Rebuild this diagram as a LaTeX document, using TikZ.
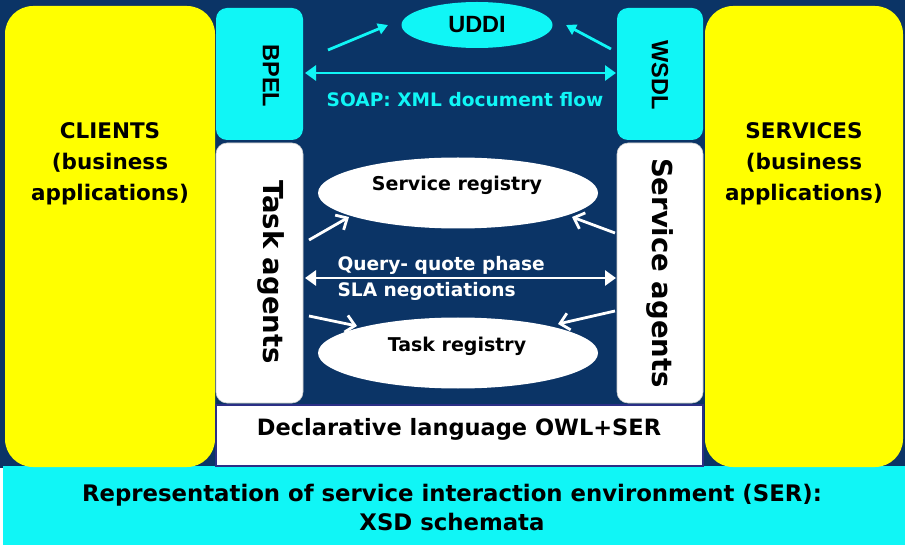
\documentclass[tikz,border=0pt]{standalone}
\usepackage{fontspec}
\setmainfont{DejaVu Sans}
\newfontfamily\labelfont{Liberation Sans}
\usetikzlibrary{shapes.geometric,arrows.meta}
\definecolor{navy}{HTML}{0B3466}
\definecolor{aqua}{HTML}{10F6F6}
\definecolor{lemon}{HTML}{FFFF00}
\definecolor{rim}{HTML}{2B2F86}
\tikzset{
  side/.style={fill=lemon, rounded corners=28pt},
  cyanbox/.style={fill=aqua, rounded corners=11pt},
  agentbox/.style={fill=white, draw=gray!40, line width=0.6pt, rounded corners=11pt},
  reg/.style={ellipse, fill=white, inner sep=0pt},
  bigtxt/.style={font=\bfseries\fontsize{21.5}{31}\selectfont, align=center},
  midtxt/.style={font=\bfseries\fontsize{18.6}{24}\selectfont},
  vtxt/.style={font=\bfseries\fontsize{27.5}{30}\selectfont, rotate=-90},
  stdtxt/.style={font=\labelfont\bfseries\fontsize{23.5}{26}\selectfont},
  regtxt/.style={font=\bfseries\fontsize{19}{22}\selectfont},
  cyanarrow/.style={aqua, line width=2.8pt, -{Triangle[length=10pt,width=11pt]}},
  cyandouble/.style={aqua, line width=2.8pt, {Triangle[length=11pt,width=15pt]}-{Triangle[length=11pt,width=15pt]}},
  whitearrow/.style={white, line width=2.8pt, -{Straight Barb[length=9pt,width=17pt,line width=2.8pt]}},
  whitedouble/.style={white, line width=2.8pt, {Triangle[length=11pt,width=15pt]}-{Triangle[length=11pt,width=15pt]}},
}
\begin{document}
\begin{tikzpicture}[x=1pt,y=-1pt]
\useasboundingbox (0,0) rectangle (905,545);
% background and base band
\fill[navy] (0,0) rectangle (905,468);
\fill[aqua] (3,466) rectangle (905,545);
% side columns
\path[side] (5,6) rectangle (215,467);
\node[bigtxt] (clients) at (110,164) {CLIENTS\\(business\\applications)};
\path[side] (705,6) rectangle (903,467);
\node[bigtxt] (services) at (804,164) {SERVICES\\(business\\applications)};
% declarative language layer
\filldraw[fill=white, draw=rim, line width=1.5pt] (216,405) rectangle (703,466);
\node[font=\bfseries\fontsize{22.5}{26}\selectfont] (decl) at (459,429) {Declarative language OWL+SER};
% standards boxes
\path[cyanbox] (216,8) rectangle (303,140);
\node[stdtxt, rotate=-90] (bpel) at (271,76) {BPEL};
\path[cyanbox] (617,8) rectangle (703,140);
\node[stdtxt, rotate=-90] (wsdl) at (660,75) {WSDL};
% agent boxes
\path[agentbox] (216,143) rectangle (303,403);
\node[vtxt] (tagents) at (271,272) {Task agents};
\path[agentbox] (617,143) rectangle (703,403);
\node[vtxt] (sagents) at (660,273) {Service agents};
% registries
\node[ellipse, fill=aqua, minimum width=151pt, minimum height=46pt, inner sep=0pt,
      stdtxt] (uddi) at (477,25) {UDDI};
\node[reg, minimum width=280pt, minimum height=71pt] (sreg) at (458,193) {};
\node[regtxt] (sregt) at (457,185) {Service registry};
\node[reg, minimum width=280pt, minimum height=71pt] (treg) at (458,353) {};
\node[regtxt] (tregt) at (457,346) {Task registry};
% flow labels
\node[midtxt, text=aqua] (soap) at (465,100) {SOAP: XML document flow};
\node[midtxt, text=white, anchor=west] (query) at (334,265) {Query- quote phase};
\node[midtxt, text=white, anchor=west] (sla) at (334,291) {SLA negotiations};
% connector end points
\coordinate (b1) at (328,50);  \coordinate (u1) at (388,25);
\coordinate (w1) at (611,49);  \coordinate (u2) at (566,25);
\coordinate (bs) at (305,73);  \coordinate (ws) at (616,73);
\coordinate (t1) at (309,240); \coordinate (s1) at (349,217);
\coordinate (a1) at (615,233); \coordinate (s2) at (572,217);
\coordinate (tq) at (305,278); \coordinate (sq) at (616,278);
\coordinate (t2) at (309,316); \coordinate (r1) at (357,326);
\coordinate (a2) at (615,311); \coordinate (r2) at (558,324);
% connectors
\draw[cyanarrow] (b1) -- (u1);
\draw[cyanarrow] (w1) -- (u2);
\draw[cyandouble] (bs) -- (ws);
\draw[whitearrow] (t1) -- (s1);
\draw[whitearrow] (a1) -- (s2);
\draw[whitedouble] (tq) -- (sq);
\draw[whitearrow] (t2) -- (r1);
\draw[whitearrow] (a2) -- (r2);
% base band text
\node[font=\bfseries\fontsize{22.8}{29}\selectfont, align=center] (ser) at (452,507)
  {Representation of service interaction environment (SER):\\XSD schemata};
\end{tikzpicture}
\end{document}
